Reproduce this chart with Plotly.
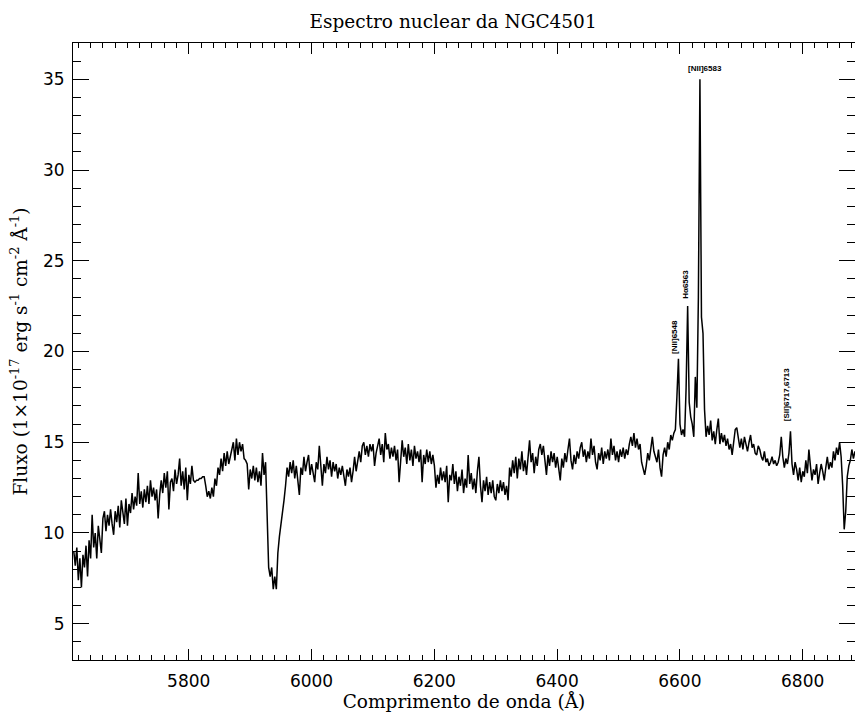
import plotly.graph_objects as go

# Spectrum dispersion (observed wavelength of first pixel and step, in Angstrom)
WAVE_START = 5612.7
WAVE_STEP = 2.5

# Flux values (1e-17 erg s^-1 cm^-2 A^-1), by region
flux_5613_5753 = [
    9.0, 8.2, 9.2, 7.4, 8.6, 7.0, 8.8, 8.1, 9.3, 7.6,
    9.6, 8.6, 11.0, 9.2, 10.0, 8.6, 10.4, 9.7,
    8.9, 10.8, 11.2, 10.1, 11.0, 10.4, 11.3, 10.5, 9.9, 11.2, 10.6, 11.5, 10.3,
    11.8, 11.0, 10.5, 11.9, 10.4, 11.6, 11.1, 12.2, 11.3, 12.0, 11.5, 13.3, 11.6,
    12.3, 11.4, 12.4, 11.7, 12.6, 11.6, 12.9, 12.0, 12.5, 11.8, 12.4, 10.8, 12.1,
]
flux_5755_5923 = [
    12.9, 12.2, 13.3, 12.5, 13.4, 11.3, 12.8, 13.0, 12.3, 13.5, 12.7, 13.2, 14.1,
    12.6, 13.4, 12.4, 13.6, 11.8, 13.2, 12.7, 13.7, 12.9,
    12.8, 12.9, 12.9, 13.0, 13.0, 13.1, 13.1, 12.6, 12.0,
    12.3, 11.9, 12.5, 12.0,
    13.0, 12.6, 13.6, 13.2, 14.1, 13.4, 14.4, 13.7, 14.5, 13.8, 14.2, 14.7,
    15.0, 14.0, 15.2, 14.3, 15.0, 14.5, 14.9, 14.1,
    14.0, 13.8,
    12.4, 13.5, 13.0, 13.7, 12.9, 13.6, 12.8, 13.4, 12.6, 14.4, 13.2,
]
flux_nad = [13.9, 10.2, 8.1, 7.6, 8.1, 6.9, 7.6, 6.9, 8.9, 9.8, 10.4, 11.1, 11.8, 12.6, 13.6]
flux_5963_6200 = [
    13.1, 13.9, 13.3, 14.0, 13.0, 13.7, 12.9, 12.1, 13.6, 13.2, 14.2, 13.4, 13.9,
    14.3, 13.2, 13.8, 13.3, 12.8, 13.9, 13.5, 14.8, 13.4, 12.6, 13.8, 13.3, 14.2,
    13.5, 14.0, 13.1, 13.9, 13.4, 13.8, 13.0, 13.6, 13.2, 13.7, 13.1, 12.6, 13.5,
    13.1, 13.6, 12.8, 13.4,
    14.2, 13.4, 14.0, 14.5, 13.9, 14.8, 15.0, 14.3, 14.8, 14.2, 14.9, 14.5, 14.9,
    13.7, 14.4, 14.9, 15.2, 14.3, 14.9, 13.9, 15.5, 14.6,
    14.9, 14.1, 14.7, 14.2, 14.8, 14.0, 14.6, 12.8, 14.3, 15.1, 14.2, 14.7, 13.8,
    14.9, 14.0, 14.6, 13.7, 14.8, 14.1, 14.5, 13.9, 14.6, 12.8, 14.3, 13.8, 14.6,
    13.9, 14.5, 13.8, 14.3, 13.7,
]
flux_6203_6518 = [
    12.5, 13.2, 12.7, 13.6, 12.9, 13.4, 12.8, 13.7, 11.7, 13.2,
    12.9, 13.8, 12.7, 13.4, 12.3, 13.1, 12.6, 13.5, 12.2, 13.0,
    12.5, 14.3, 12.7, 13.3, 12.4, 13.0, 12.2, 13.4, 14.2, 12.6,
    11.7, 12.9, 12.3, 13.1, 12.1, 12.8, 12.2, 12.9, 12.0, 11.8,
    12.7, 12.2, 12.9, 12.3, 12.8, 12.1,
    12.6, 11.8, 13.6, 13.1, 14.0, 13.3, 14.2, 13.0, 14.1, 13.5, 14.5, 13.4, 14.0,
    13.2, 14.3, 15.1, 13.9, 14.4, 13.3, 14.2, 13.7, 14.6, 14.9, 14.3, 14.8, 13.8,
    13.2, 14.3, 13.7, 14.5, 13.9, 14.4, 13.6, 14.2, 13.4, 12.9,
    14.1, 13.6, 14.4, 13.9, 14.6, 15.2, 14.0, 13.5, 14.3, 13.8,
    14.5, 14.1, 14.7, 15.0, 14.2, 14.6, 13.9, 14.5, 14.1, 15.2,
    14.3, 14.8, 13.9, 13.5, 14.4, 14.0, 14.7, 13.8, 14.5, 14.1,
    14.6, 14.0, 15.2, 14.3, 14.8, 14.0, 14.5, 13.9, 14.6, 14.2,
    14.7, 14.1, 14.6, 14.3, 14.9,
]
flux_6520_6590 = [
    15.3, 14.8, 15.5, 14.7, 15.2, 14.6, 14.9, 13.9, 13.5,
    13.2, 13.7, 14.4, 14.0, 14.8, 15.3, 14.5, 14.1, 13.9, 14.6,
    13.6, 13.1, 14.3, 14.7, 14.2, 15.0, 14.6, 15.4, 15.1, 15.5,
]
flux_halpha_nii = [
    15.7, 17.5, 19.6, 16.0, 15.4, 15.7, 15.3, 18.0, 22.5, 17.2, 16.4,
    16.0, 15.3, 18.6, 16.9, 23.0, 35.0, 21.9, 21.0, 16.8, 15.3,
]
flux_6645_6788 = [
    15.9, 15.4, 16.2, 15.1, 15.6, 14.9, 15.7, 16.3, 14.9, 15.5,
    15.0, 15.4, 14.8, 15.2, 14.6, 14.9, 14.3, 15.0, 15.7, 15.8,
    15.1, 14.7, 15.2, 14.6, 15.3, 14.9, 14.5, 15.0, 15.4, 14.7,
    14.9, 14.4, 14.3, 14.8, 14.6, 14.2, 14.0, 14.5, 13.9, 14.1,
    13.7, 13.9, 14.2, 13.8, 14.0, 13.7, 13.9,
    14.3, 15.3, 14.2, 13.6, 14.1, 13.8, 14.4, 15.6, 13.8, 13.2, 13.9,
]
flux_6790_6885 = [
    13.5, 12.9, 13.6, 12.8, 13.4, 13.1, 14.0, 13.3, 14.6, 13.7,
    12.9, 13.5, 13.2, 13.8, 12.7, 13.3, 13.8, 13.4, 12.9, 13.6,
    14.2, 13.5, 13.9, 13.6, 14.5, 14.0, 14.7, 14.3, 15.0, 14.2,
    12.6, 10.2, 11.2, 13.1, 13.7, 14.0, 14.6, 14.1, 14.5,
]

flux = (flux_5613_5753 + flux_5755_5923 + flux_nad + flux_5963_6200 + flux_6203_6518
        + flux_6520_6590 + flux_halpha_nii + flux_6645_6788 + flux_6790_6885)
wavelength = [WAVE_START + WAVE_STEP * i for i in range(len(flux))]

# Emission line labels: text, wavelength, flux position, rotation
line_labels = ["[NII]6548", "H\u03b16563", "[NII]6583", "[SII]6717,6713"]
label_wave = [6592.0, 6609.1, 6640.5, 6774.0]
label_flux = [20.8, 23.7, 35.62, 17.63]
label_angle = [-90, -90, 0, -90]

X_RANGE = [5611.5, 6885.3]
Y_RANGE = [3, 37]

fig = go.Figure()
fig.add_trace(go.Scatter(x=wavelength, y=flux, mode="lines",
                         line=dict(color="black", width=1.5), hoverinfo="skip"))

for t, w, f, a in zip(line_labels, label_wave, label_flux, label_angle):
    fig.add_annotation(x=w, y=f, xref="x", yref="y", text=t, showarrow=False,
                       textangle=a, xanchor="center", yanchor="middle",
                       font=dict(family="Liberation Sans", size=8, color="black", weight="bold"))

serif = "DejaVu Serif"
sans = "DejaVu Sans"

fig.update_layout(
    width=855, height=713,
    margin=dict(l=73, r=0, t=43, b=53),
    paper_bgcolor="white", plot_bgcolor="white",
    showlegend=False,
    title=dict(text="Espectro nuclear da NGC4501", x=0.486, xref="paper", xanchor="center",
               y=1 - 22 / 713, yref="container", yanchor="middle",
               font=dict(family=serif, size=18.5, color="black")),
)
fig.update_xaxes(
    range=X_RANGE, dtick=200, tick0=0, ticks="inside", ticklen=11, tickwidth=1,
    tickcolor="black", showline=True, linecolor="black", linewidth=1, mirror="ticks",
    showgrid=False, zeroline=False,
    minor=dict(dtick=20, tick0=0, ticks="inside", ticklen=5, tickcolor="black", tickwidth=1, showgrid=False),
    tickfont=dict(family=sans, size=17, color="black"), ticklabelstandoff=6,
    title=dict(text="Comprimento de onda (\u00c5)", font=dict(family=serif, size=18.5, color="black"), standoff=4),
)
fig.update_yaxes(
    range=Y_RANGE, dtick=5, tick0=0, ticks="inside", ticklen=16, tickwidth=1,
    tickcolor="black", showline=True, linecolor="black", linewidth=1, mirror="ticks",
    showgrid=False, zeroline=False,
    minor=dict(dtick=1, tick0=0, ticks="inside", ticklen=8, tickcolor="black", tickwidth=1, showgrid=False),
    tickfont=dict(family=sans, size=17, color="black"), ticklabelstandoff=4,
    title=dict(text="Fluxo (1\u00d710<sup>-17</sup> erg s<sup>-1</sup> cm<sup>-2</sup> \u00c5<sup>-1</sup>)",
               font=dict(family=serif, size=18.5, color="black"), standoff=10),
)

fig.write_html("out.html")
